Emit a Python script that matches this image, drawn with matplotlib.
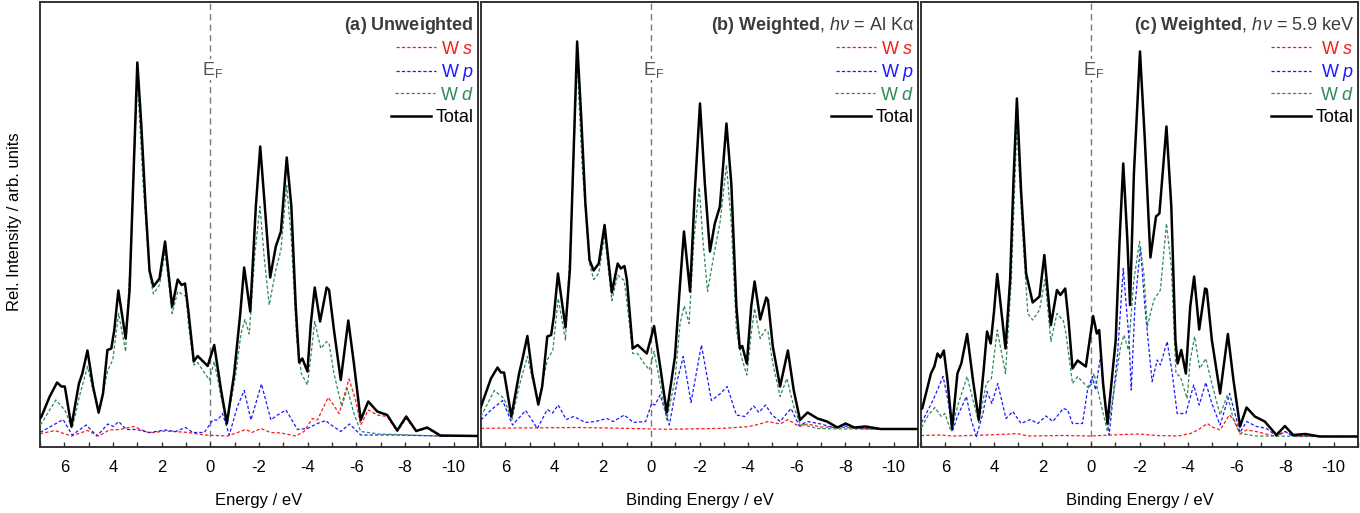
import matplotlib
matplotlib.use("Agg")
import matplotlib.pyplot as plt
from matplotlib.ticker import MultipleLocator

plt.rcParams["font.family"] = ["Liberation Sans", "DejaVu Sans"]
plt.rcParams["mathtext.fontset"] = "custom"
plt.rcParams["mathtext.rm"] = "Liberation Sans"
plt.rcParams["mathtext.it"] = "Liberation Sans:italic"
plt.rcParams["mathtext.bf"] = "Liberation Sans:bold"
plt.rcParams["mathtext.fallback"] = "stixsans"
plt.rcParams["axes.unicode_minus"] = False

# (energy in eV, intensity in arb. units)

# --- panel (a): unweighted
a_total = [(7.0, 18), (6.94, 20), (6.60, 40), (6.30, 54), (6.12, 50), (5.98, 50), (5.71, 10),
           (5.40, 53), (5.26, 63), (5.05, 86), (4.82, 50), (4.59, 24), (4.41, 43), (4.23, 86.5),
           (4.07, 88), (3.95, 106), (3.78, 146), (3.48, 98), (3.32, 146), (3.18, 246), (3.00, 374),
           (2.84, 313), (2.66, 230), (2.50, 166), (2.34, 150), (2.09, 158), (1.86, 195), (1.57, 130),
           (1.34, 157), (1.18, 151.5), (1.04, 153), (0.90, 125), (0.68, 75), (0.52, 80.5), (0.11, 70.5),
           (-0.16, 91.5), (-0.44, 46.5), (-0.68, 13), (-0.98, 63), (-1.23, 123), (-1.39, 169),
           (-1.64, 125), (-1.87, 230), (-2.05, 290), (-2.24, 230), (-2.46, 159), (-2.69, 190),
           (-2.90, 205), (-3.14, 279), (-3.33, 230), (-3.51, 130), (-3.65, 74), (-3.78, 78),
           (-3.99, 65), (-4.13, 113), (-4.29, 149), (-4.51, 115), (-4.78, 149), (-4.88, 146.5),
           (-5.08, 106.5), (-5.36, 56.5), (-5.67, 116), (-5.90, 73), (-6.18, 16.5), (-6.49, 35),
           (-6.86, 25), (-7.27, 21.5), (-7.68, 6), (-8.05, 20), (-8.46, 5.5), (-8.91, 9), (-9.45, 1),
           (-11.0, 0.5)]
a_d = [(7.0, 12), (6.94, 13), (6.35, 36.5), (5.98, 26.5), (5.68, 8), (5.38, 40), (5.05, 70),
       (4.59, 23), (4.21, 66.5), (4.01, 76.5), (3.77, 123), (3.48, 85), (3.25, 196), (3.00, 357),
       (2.77, 256), (2.50, 163), (2.34, 142.5), (2.09, 151.5), (1.86, 185), (1.57, 123), (1.34, 145),
       (1.00, 140), (0.89, 110), (0.68, 71.5), (0.52, 74), (0.32, 66.5), (0.04, 56.5), (-0.16, 75),
       (-0.44, 40), (-0.68, 11.5), (-1.05, 63), (-1.26, 103), (-1.42, 117), (-1.60, 102.5),
       (-1.83, 183), (-2.04, 230), (-2.21, 180), (-2.42, 131.5), (-2.69, 166.5), (-2.90, 186.5),
       (-3.14, 251), (-3.33, 196.5), (-3.55, 96.5), (-3.74, 63), (-3.99, 51.5), (-4.13, 80),
       (-4.29, 115), (-4.54, 88), (-4.78, 95), (-4.88, 93), (-5.08, 63), (-5.40, 30), (-5.63, 48),
       (-5.90, 23), (-6.18, 5), (-6.93, 2.5), (-9.4, 0.5), (-11.0, 0.5)]
a_p = [(7.0, 4.5), (6.94, 4.8), (6.05, 17), (5.68, 1.5), (5.10, 11.5), (4.66, 0.5), (4.21, 12.5),
       (3.98, 10), (3.77, 15), (3.45, 7), (3.04, 7), (2.50, 4), (1.86, 6.5), (1.43, 5), (1.02, 9),
       (0.72, 4), (0.25, 4), (-0.10, 16.5), (-0.30, 16.5), (-0.50, 23), (-0.78, 1.5), (-1.11, 30),
       (-1.39, 46), (-1.67, 16.5), (-2.10, 52.5), (-2.49, 16.5), (-2.76, 21.5), (-3.11, 26.5),
       (-3.58, 7), (-3.99, 8), (-4.40, 13), (-4.74, 16), (-4.88, 13), (-5.36, 5), (-5.72, 12.5),
       (-6.18, 1.5), (-7.6, 1.5), (-9.4, 0.5), (-11.0, 0.5)]
a_s = [(7.0, 3), (6.94, 3), (6.39, 6), (5.71, 0.5), (5.05, 6), (4.59, 0.5), (4.15, 6.5), (3.74, 7),
       (3.14, 10), (2.50, 3.5), (1.86, 5.5), (0.89, 4), (0.25, 1.5), (-0.71, 0.5), (-1.46, 7),
       (-1.71, 4), (-2.08, 8), (-2.47, 4), (-2.90, 3.5), (-3.51, 0.5), (-3.85, 5), (-4.19, 18),
       (-4.40, 16.5), (-4.84, 39), (-5.05, 32), (-5.29, 23), (-5.70, 57.5), (-5.97, 36.5),
       (-6.18, 11.5), (-6.49, 26.5), (-6.86, 21.5), (-7.27, 20), (-7.68, 5), (-8.05, 18),
       (-8.46, 5), (-8.91, 8), (-9.45, 0.5), (-11.0, 0.5)]

# --- panel (b): weighted, Al K-alpha
b_total = [(7.0, 30), (6.59, 58), (6.32, 69), (6.18, 64), (6.05, 64), (5.75, 20), (5.43, 63),
           (5.30, 76.5), (5.09, 100.5), (4.89, 63), (4.64, 32), (4.48, 50), (4.27, 100), (4.11, 101.5),
           (4.00, 120), (3.83, 163), (3.52, 109), (3.34, 166.5), (3.20, 273), (3.04, 395), (2.88, 323),
           (2.70, 233), (2.53, 176.5), (2.36, 166), (2.15, 173), (1.91, 211.5), (1.61, 144),
           (1.37, 173), (1.24, 168), (1.09, 170.5), (0.99, 156.5), (0.75, 88), (0.55, 91.5),
           (0.17, 83), (-0.13, 110.5), (-0.38, 70), (-0.65, 24), (-0.99, 80), (-1.20, 153),
           (-1.36, 205), (-1.61, 145), (-1.81, 246.5), (-2.02, 333), (-2.22, 253), (-2.43, 185),
           (-2.63, 213), (-2.84, 230), (-3.11, 313), (-3.31, 253), (-3.52, 130), (-3.66, 88),
           (-3.76, 90.5), (-3.95, 73), (-4.13, 130), (-4.27, 155), (-4.50, 117), (-4.75, 139),
           (-4.82, 136.5), (-5.02, 90), (-5.32, 50), (-5.64, 86), (-5.88, 46.5), (-6.14, 16.5),
           (-6.45, 24), (-6.86, 18), (-7.25, 15), (-7.68, 9), (-8.02, 13), (-8.37, 9), (-8.84, 10),
           (-9.46, 7.5), (-11.0, 7.5)]
b_d = [(7.0, 20), (6.45, 46), (6.05, 38), (5.73, 16.5), (5.43, 50), (5.09, 80), (4.64, 31.5),
       (4.27, 76.5), (4.04, 86.5), (3.82, 138), (3.52, 96.5), (3.29, 206.5), (3.04, 375), (2.84, 273),
       (2.53, 173), (2.36, 157), (2.15, 163), (1.91, 201.5), (1.61, 136), (1.37, 161.5), (1.10, 156),
       (0.97, 130), (0.75, 83), (0.55, 83), (0.34, 75), (0.06, 66.5), (-0.13, 85), (-0.38, 53),
       (-0.65, 16.5), (-0.99, 56.5), (-1.20, 113), (-1.37, 130.5), (-1.57, 113), (-1.77, 196.5),
       (-1.99, 249), (-2.14, 196.5), (-2.33, 145), (-2.63, 186.5), (-2.84, 213), (-3.11, 271.5),
       (-3.31, 213), (-3.52, 106.5), (-3.72, 80), (-3.95, 61.5), (-4.13, 103), (-4.27, 128),
       (-4.50, 98), (-4.72, 107), (-4.82, 105), (-5.02, 73), (-5.32, 40), (-5.60, 58), (-5.88, 30),
       (-6.14, 12.5), (-6.86, 8), (-8.0, 7.5), (-11.0, 7.5)]
b_p = [(7.0, 16.5), (6.59, 26.5), (6.11, 36), (5.70, 11.5), (5.16, 26), (4.68, 8), (4.27, 27),
       (4.05, 23.5), (3.82, 31.5), (3.49, 17), (3.18, 20), (2.70, 14), (2.29, 15), (1.82, 18),
       (1.55, 15), (1.10, 21.5), (0.72, 14), (0.22, 15), (-0.03, 33), (-0.16, 31.5), (-0.38, 41.5),
       (-0.76, 11.5), (-1.09, 56.5), (-1.33, 80), (-1.65, 34), (-2.08, 91.5), (-2.49, 36),
       (-2.84, 42.5), (-3.14, 50), (-3.52, 21.5), (-3.86, 20), (-4.23, 30.5), (-4.45, 24),
       (-4.72, 31.5), (-4.99, 21.5), (-5.32, 15), (-5.77, 28), (-6.10, 11), (-6.45, 15), (-7.0, 12.5),
       (-7.5, 9), (-8.0, 10.5), (-8.5, 8), (-9.5, 7.5), (-11.0, 7.5)]
b_s = [(7.0, 8.2), (3.0, 9), (1.1, 8.2), (-0.65, 7.2), (-3.0, 8.2), (-4.0, 9.8), (-4.4, 12),
       (-4.75, 14.5), (-4.82, 15), (-5.32, 12.5), (-5.64, 17), (-6.1, 10), (-6.45, 12.5), (-7.0, 9.5),
       (-8.0, 9), (-9.0, 7.5), (-11.0, 7.5)]

# --- panel (c): weighted, 5.9 keV
c_total = [(7.0, 28), (6.95, 28), (6.59, 63), (6.45, 70), (6.32, 83), (6.20, 79), (6.06, 86),
           (5.91, 56.5), (5.72, 8), (5.50, 63), (5.34, 73), (5.10, 102.5), (4.86, 56.5), (4.62, 16.5),
           (4.42, 66.5), (4.28, 105), (4.13, 93), (4.00, 123), (3.86, 162.5), (3.52, 88), (3.33, 156.5),
           (3.19, 256.5), (3.05, 338), (2.88, 246.5), (2.67, 163), (2.40, 134), (2.12, 140),
           (1.92, 181.5), (1.65, 111.5), (1.40, 146.5), (1.26, 141.5), (1.06, 148), (0.92, 115),
           (0.76, 68), (0.55, 76), (0.21, 70), (-0.09, 120.5), (-0.24, 103), (-0.34, 106.5),
           (-0.50, 53), (-0.68, 13), (-1.02, 96.5), (-1.18, 196.5), (-1.33, 273), (-1.50, 196.5),
           (-1.61, 131.5), (-1.77, 263), (-2.02, 385), (-2.22, 296.5), (-2.45, 179), (-2.68, 220),
           (-2.82, 223), (-3.11, 310), (-3.31, 230), (-3.48, 96.5), (-3.57, 73), (-3.72, 86.5),
           (-3.91, 63), (-4.09, 130), (-4.25, 160), (-4.46, 107), (-4.70, 148), (-4.77, 147),
           (-4.98, 96.5), (-5.32, 43), (-5.64, 102.5), (-5.87, 56.5), (-6.14, 10), (-6.41, 29),
           (-6.75, 20), (-7.16, 15), (-7.64, 1.5), (-7.99, 10.5), (-8.33, 1.5), (-8.83, 2.5),
           (-9.42, 0), (-11.0, 0)]
c_d = [(7.0, 10), (6.95, 10), (6.70, 21.5), (6.43, 29), (6.16, 20), (6.02, 23), (5.76, 5),
       (5.48, 31.5), (5.10, 60), (4.86, 36.5), (4.62, 14), (4.31, 53), (4.10, 58), (3.86, 106.5),
       (3.52, 63), (3.28, 156.5), (3.05, 311.5), (2.85, 216.5), (2.60, 123), (2.40, 116.5),
       (2.12, 126.5), (1.89, 157), (1.65, 95), (1.40, 123), (1.14, 116), (1.03, 103), (0.76, 53),
       (0.55, 60), (0.28, 53), (0.07, 48), (-0.13, 63), (-0.34, 40), (-0.68, 5), (-1.02, 56.5),
       (-1.22, 90), (-1.36, 101.5), (-1.54, 86.5), (-1.77, 156.5), (-2.00, 195), (-2.18, 163),
       (-2.32, 110), (-2.59, 136.5), (-2.86, 146.5), (-3.11, 213), (-3.31, 170), (-3.50, 63),
       (-3.68, 60), (-3.96, 38), (-4.09, 76.5), (-4.27, 100), (-4.48, 68), (-4.73, 78), (-4.98, 53),
       (-5.32, 21.5), (-5.62, 41.5), (-5.87, 16.5), (-6.14, 3), (-6.8, 0.5), (-11.0, 0)]
c_p = [(7.0, 15), (6.95, 15), (6.50, 36.5), (6.09, 60), (5.89, 36.5), (5.71, 5), (5.50, 20),
       (5.13, 40), (4.93, 16.5), (4.72, 0), (4.45, 23), (4.28, 45), (4.08, 33), (3.84, 53), (3.50, 18),
       (3.22, 25), (2.88, 13), (2.49, 17), (2.19, 13), (1.85, 20.5), (1.57, 15), (1.14, 28),
       (0.96, 26.5), (0.76, 13), (0.35, 13), (0.14, 46.5), (-0.06, 60), (-0.19, 46.5), (-0.40, 81.5),
       (-0.56, 36.5), (-0.75, 1.5), (-1.09, 80), (-1.33, 168), (-1.57, 96.5), (-1.66, 46.5),
       (-1.81, 130), (-2.04, 190), (-2.22, 130), (-2.52, 55), (-2.73, 76.5), (-2.86, 71.5),
       (-3.14, 95), (-3.35, 63), (-3.55, 23), (-3.91, 23), (-4.23, 51.5), (-4.46, 31.5), (-4.73, 54),
       (-4.98, 33), (-5.32, 11.5), (-5.71, 43), (-5.93, 23), (-6.14, 4), (-6.41, 15), (-6.82, 10),
       (-7.23, 8), (-7.64, 0.5), (-8.0, 5), (-8.33, 0.5), (-8.8, 1), (-9.4, 0), (-11.0, 0)]
c_s = [(7.0, 1), (6.2, 1.5), (5.7, 0.5), (4.3, 1.5), (3.3, 2.5), (3.05, 3), (2.6, 0.5), (1.1, 1),
       (0.0, 0.5), (-1.3, 2), (-2.0, 2.5), (-2.7, 1), (-3.6, 0.5), (-4.1, 3), (-4.4, 6.5), (-4.8, 13),
       (-4.95, 10), (-5.32, 6.5), (-5.70, 21.5), (-5.90, 16.5), (-6.14, 2.5), (-6.41, 6.5),
       (-6.8, 5), (-7.64, 0), (-8.0, 5), (-8.33, 0), (-11.0, 0)]

titles = [r"$\mathbf{(a)\ Unweighted}$",
          r"$\mathbf{(b)\ Weighted}$, $h\nu$ = Al Kα",
          r"$\mathbf{(c)\ Weighted}$, $h\nu$ = 5.9 keV"]
xlabels = ["Energy / eV", "Binding Energy / eV", "Binding Energy / eV"]

RED, BLUE, GREEN = "#ff1a1a", "#1a1aff", "#2e8b57"
GREY = "#3c3c3c"

fig = plt.figure(figsize=(13.6, 5.13), dpi=100)
W, H = 1360.0, 513.0
lefts = [40, 481, 921]
widths = [438, 437, 437]
bot_px, top_px = 447.0, 1.5

def xy(pts):
    return [p[0] for p in pts], [p[1] for p in pts]

data = [(a_s, a_p, a_d, a_total), (b_s, b_p, b_d, b_total), (c_s, c_p, c_d, c_total)]
dash = (0, (2.6, 1.7))

axes = []
for i in range(3):
    ax = fig.add_axes([lefts[i] / W, 1 - bot_px / H, widths[i] / W, (bot_px - top_px) / H])
    axes.append(ax)
    s, p, d, tot = data[i]
    ax.axvline(0, color="#7a7a7a", lw=1.0, ls=(0, (4.5, 3)), zorder=1)
    ax.plot(*xy(s), color=RED, lw=0.9, ls=dash, zorder=2)
    ax.plot(*xy(p), color=BLUE, lw=0.9, ls=dash, zorder=2)
    ax.plot(*xy(d), color=GREEN, lw=0.9, ls=dash, zorder=3)
    ax.plot(*xy(tot), color="black", lw=1.8, zorder=4, solid_joinstyle="round")
    ax.set_xlim(7, -11)
    ax.set_ylim(-10.5, 435)
    ax.set_yticks([])
    ax.xaxis.set_major_locator(MultipleLocator(2))
    ax.xaxis.set_minor_locator(MultipleLocator(1))
    ax.tick_params(axis="x", which="both", direction="in", length=3.5, width=1.0,
                   color="#333333", labelsize=12, pad=9, top=False)
    for sp in ax.spines.values():
        sp.set_linewidth(1.4)
        sp.set_color("#333333")
    ax.set_xlabel(xlabels[i], fontsize=12, labelpad=13)
    ax.text(-0.1, 362, r"E$_\mathrm{F}$", color="#555555", fontsize=13, ha="center",
            va="baseline", zorder=5,
            bbox=dict(facecolor="white", edgecolor="none", pad=0.5))
    ax.text(1 - 4.0 / widths[i], 1 - (29.5 - top_px) / (bot_px - top_px), titles[i],
            transform=ax.transAxes, ha="right", va="baseline", fontsize=13, color=GREY)

fig.text(15 / W, 1 - 222 / H, "Rel. Intensity / arb. units", rotation=90,
         ha="center", va="center", fontsize=12)

# key rows drawn by hand so that labels stay right aligned
labels = [r"W $\mathit{s}$", r"W $\mathit{p}$", r"W $\mathit{d}$", "Total"]
colors = [RED, BLUE, GREEN, "black"]
styles = [dash, dash, dash, "-"]
lws = [0.9, 0.9, 0.9, 1.8]
row_px = [47, 70.5, 93, 115.5]

fig.canvas.draw()
renderer = fig.canvas.get_renderer()
for i, ax in enumerate(axes):
    inv = ax.transAxes.inverted()
    hgt = bot_px - top_px
    texts = []
    for lab, col, y in zip(labels, colors, row_px):
        t = ax.text(1 - 4.0 / widths[i], 1 - (y + 6.5 - top_px) / hgt, lab, color=col,
                    transform=ax.transAxes, ha="right", va="baseline", fontsize=13)
        texts.append(t)
    fig.canvas.draw()
    tl = [inv.transform(t.get_window_extent(renderer))[0][0] for t in texts]
    gap = 5.0 / widths[i]
    hl = 40.0 / widths[i]
    for j in range(4):
        xr = (min(tl) if i == 2 else tl[j]) - gap
        yl = 1 - (row_px[j] - top_px) / hgt
        ax.plot([xr - hl, xr], [yl, yl], transform=ax.transAxes, color=colors[j],
                ls=styles[j], lw=lws[j], clip_on=False)

fig.savefig("out.png", dpi=100)
